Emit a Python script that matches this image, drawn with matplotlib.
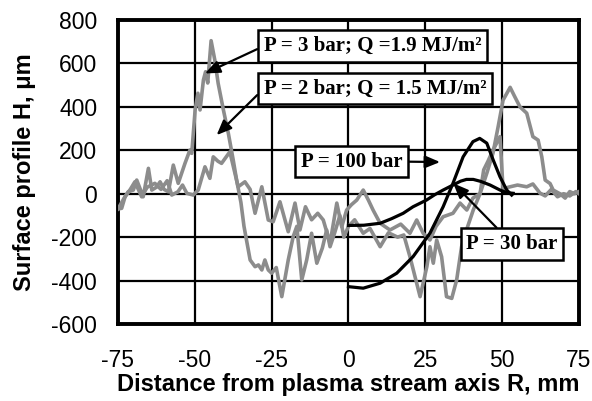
import numpy as np
import matplotlib
matplotlib.use('Agg')
import matplotlib.pyplot as plt

# ---[DATA]---
# measured profiles (grey)
r_3bar = [-75, -73.8, -72.7, -71.7, -70, -68.9, -66.8, -65.1, -64, -62.5, -61.3, -60, -58.6, -57, -55.4,
          -53.2, -51.6, -51, -49.9, -49, -48.3, -47.2, -46.5, -45.8, -44.7, -43.5, -42.4, -40.7, -39.1,
          -37.5, -36.4, -35, -34, -32, -30.4, -29.3, -28.2, -27.2, -26.1, -25, -23.5, -21.7, -19.6, -18,
          -16.8, -15.2, -13.6, -12, -10.3, -8.5, -7.1, -6, -4.5, -2.8, -1.5, 0, 2, 4.8, 7, 10.3, 13, 16,
          18, 20, 23.3, 25.5, 26.5, 27.6, 28.7, 30.3, 31.9, 33.6, 35.2, 36.8, 38.4, 40.6, 42.8, 44, 45.4,
          47, 48.2, 49.3, 50.3, 52, 55, 58, 60, 62.3, 64, 66, 68, 70, 72, 74, 75]
h_3bar = [-70, -67, -14, 9, 17, 63, -14, 117, 17, 30, 55, 20, 9, 132, 48,
          140, 201, 186, 386, 463, 386, 524, 562, 510, 705, 616, 508, 386, 279,
          155, 63, -40, -150, -305, -336, -328, -351, -305, -351, -366, -340, -474, -305, -198,
          -150, -397, -305, -182, -320, -250, -167, -244, -180, -100, -200, -150, -120, -182, -160, -244, -180, -200,
          -190, -290, -474, -336, -244, -320, -213, -290, -474, -482, -397, -244, -167, -75, 0, 110, 150,
          200, 233, 263, 20, 30, 40, 32, 45, 3, -10, 20, -14, 0, -10, 10, 0]

r_2bar = [-75, -73, -71, -69.5, -67.3, -65.5, -63, -61, -59, -57.5, -55.5, -54, -52.6, -50.5, -48.9,
          -46.7, -45.1, -44, -42.5, -41.3, -38.6, -35.9, -33.7, -32, -30.4, -28.2, -26.1, -24.5, -22.3,
          -19.6, -17.4, -15.8, -14, -12, -10, -8.2, -6, -3.8, -2.2, -0.6, 1, 2.7, 4.8, 6.5, 8, 10.3, 13.5,
          17, 20, 22.2, 24.3, 26.5, 28.5, 30.8, 34, 36.3, 38.5, 40.5, 42.8, 45, 47, 48.7, 50.3, 52.6, 54,
          55.8, 58, 60, 61.7, 62.9, 64, 65.6, 66.6, 68.8, 70.5, 72, 73.5, 75]
h_2bar = [-70, -20, 20, 55, -14, 30, 48, 20, 60, -6, 9, 40, 2, -6, 17,
          124, 71, 170, 150, 140, 193, 32, 55, 20, -90, 32, -121, -129, -37,
          -175, -43, -167, -60, -120, -90, -121, -228, -43, -152, -75, -50, -29, 17, -30, -75, -136, -167,
          -140, -182, -121, -182, -213, -150, -106, -90, -43, -75, -20, 0, 94, 186, 309, 431, 490, 450,
          400, 371, 263, 247, 170, 63, 47, 17, 0, -20, 10, 0, 10]

# calculated profiles (black)
r_30 = [0, 5, 10.3, 14, 17.8, 21, 25.4, 28, 30.8, 34, 36.5, 38.4, 40.6, 43, 46.1, 49.3, 51.5, 53.6]
h_30 = [-146, -145, -136, -115, -90, -60, -29, -5, 17, 40, 58, 66, 66, 57, 40, 17, 5, 2]
r_100 = [0, 4.8, 10.3, 15.7, 21, 26.5, 30.8, 34, 37.3, 40.5, 42.7, 45, 47.1, 49.3, 51.5, 53.1]
h_100 = [-428, -435, -412, -366, -290, -182, -60, 48, 170, 240, 255, 233, 155, 78, 17, -6]

x_ticks = [-75, -50, -25, 0, 25, 50, 75]
y_ticks = [-600, -400, -200, 0, 200, 400, 600, 800]
# ---------------

plt.rcParams['axes.unicode_minus'] = False

fig = plt.figure(figsize=(5.92, 4.01), dpi=100)
ax = fig.add_axes([0.1993, 0.192, 0.7787, 0.758])

gray = '#8c8c8c'
ax.plot(r_3bar, h_3bar, color=gray, lw=2.6, zorder=3)
ax.plot(r_2bar, h_2bar, color=gray, lw=2.6, zorder=3)
ax.plot(r_30, h_30, color='black', lw=2.3, zorder=4)
ax.plot(r_100, h_100, color='black', lw=2.3, zorder=4)

ax.set_xlim(-75, 75)
ax.set_ylim(-600, 800)
ax.set_xticks(x_ticks)
ax.set_yticks(y_ticks)
ax.grid(True, color='black', lw=1.6)
ax.set_axisbelow(True)
for s in ax.spines.values():
    s.set_linewidth(2.8)
ax.tick_params(axis='y', length=0, pad=15, labelsize=16.5)
ax.tick_params(axis='x', length=0, pad=18, labelsize=16.5)
for lbl in ax.get_xticklabels() + ax.get_yticklabels():
    lbl.set_family('Liberation Sans')

ax.set_xlabel('Distance from plasma stream axis R, mm', family='Liberation Sans',
              fontsize=17, fontweight='bold', labelpad=1)
ax.set_ylabel('Surface profile H, \u03bcm', family='Liberation Sans',
              fontsize=17, fontweight='bold', labelpad=11)

box = dict(boxstyle='square,pad=0.27', fc='white', ec='black', lw=1.8)


def arrow(rel):
    return dict(arrowstyle='-|>,head_length=0.6,head_width=0.25', color='black', lw=1.6,
                shrinkA=0, shrinkB=0, relpos=rel)


tkw = dict(family='Liberation Serif', fontweight='bold', fontsize=15, bbox=box, zorder=6)

ax.annotate('P = 3 bar; Q =1.9 MJ/m\u00b2', xy=(-46.7, 554), xytext=(-27.6, 680),
            ha='left', va='center', arrowprops=arrow((0, 0.5)), **tkw)
ax.annotate('P = 2 bar; Q = 1.5 MJ/m\u00b2', xy=(-42.9, 270), xytext=(-27.6, 484),
            ha='left', va='center', arrowprops=arrow((0, 0.5)), **tkw)
ax.annotate('P = 100 bar', xy=(29.8, 146), xytext=(1.1, 148),
            ha='center', va='center', arrowprops=arrow((1, 0.5)), **tkw)
ax.annotate('P = 30 bar', xy=(34.1, 48), xytext=(53.2, -232),
            ha='center', va='center', arrowprops=arrow((0.4, 1)), **tkw)

fig.savefig('out.png', dpi=100)
